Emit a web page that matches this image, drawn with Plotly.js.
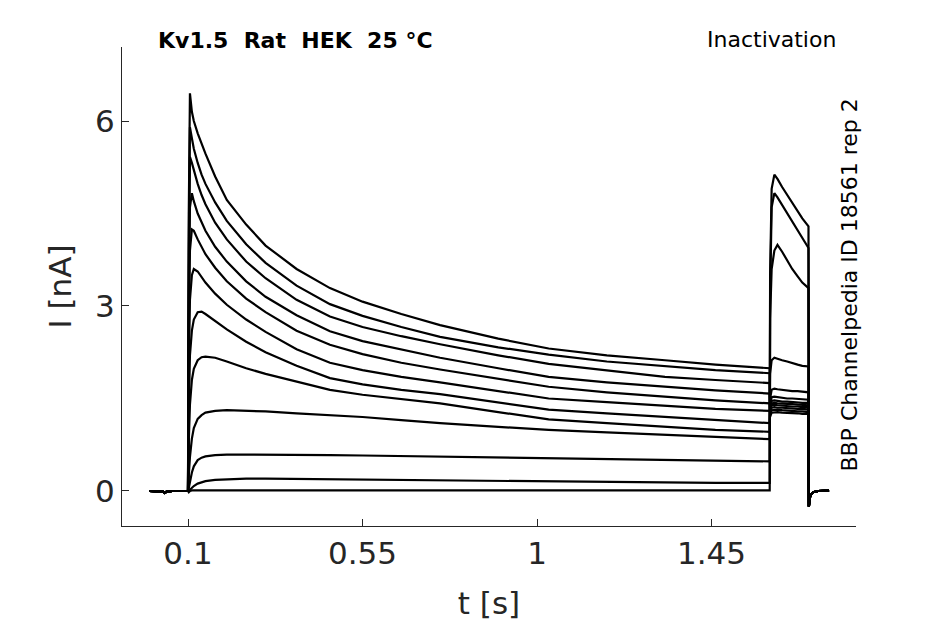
<!DOCTYPE html>
<html>
<head>
<meta charset="utf-8">
<script src="https://cdn.plot.ly/plotly-3.0.1.min.js"></script>
<style>html,body{margin:0;padding:0;background:#fff;}#chart{width:945px;height:624px;}</style>
</head>
<body>
<div id="chart"></div>
<script>
// ---- data (t in s, I in nA) ----
var baseT = [0, 0.02, 0.035, 0.04, 0.045, 0.06, 0.08, 0.1];
var baseI = [0, 0, -0.01, -0.03, -0.01, 0, 0, 0];

var preT = [0.102, 0.105, 0.11, 0.115, 0.125, 0.135, 0.145, 0.17, 0.2, 0.25, 0.3, 0.38, 0.466, 0.55, 0.65, 0.75, 0.9, 1.03, 1.18, 1.33, 1.46, 1.6];
var pre1  = [4.5, 6.45, 6.15, 6.0, 5.8, 5.62, 5.47, 5.1, 4.72, 4.32, 3.98, 3.6, 3.29, 3.07, 2.87, 2.69, 2.47, 2.31, 2.2, 2.12, 2.05, 1.99];
var pre2  = [4.0, 5.9, 5.72, 5.55, 5.32, 5.13, 4.98, 4.68, 4.38, 4.0, 3.7, 3.33, 3.03, 2.84, 2.66, 2.5, 2.33, 2.21, 2.1, 2.02, 1.96, 1.91];
var pre3  = [3.5, 5.42, 5.32, 5.2, 4.98, 4.8, 4.65, 4.35, 4.08, 3.72, 3.45, 3.1, 2.83, 2.66, 2.51, 2.38, 2.2, 2.06, 1.95, 1.85, 1.8, 1.75];
var pre4  = [3.0, 4.6, 4.83, 4.7, 4.5, 4.35, 4.22, 3.96, 3.72, 3.4, 3.15, 2.85, 2.59, 2.43, 2.29, 2.16, 1.99, 1.85, 1.76, 1.69, 1.63, 1.58];
var pre5  = [2.6, 3.9, 4.24, 4.22, 4.08, 3.95, 3.84, 3.62, 3.4, 3.12, 2.9, 2.6, 2.37, 2.22, 2.08, 1.97, 1.82, 1.69, 1.6, 1.53, 1.47, 1.42];
var pre6  = [2.0, 3.1, 3.5, 3.6, 3.56, 3.47, 3.38, 3.2, 3.02, 2.78, 2.58, 2.3, 2.08, 1.96, 1.85, 1.76, 1.62, 1.5, 1.44, 1.38, 1.33, 1.3];
var pre7  = [1.3, 2.2, 2.6, 2.78, 2.9, 2.91, 2.87, 2.76, 2.62, 2.42, 2.25, 2.03, 1.83, 1.73, 1.64, 1.57, 1.44, 1.32, 1.26, 1.2, 1.15, 1.1];
var pre8  = [0.8, 1.4, 1.8, 1.98, 2.12, 2.17, 2.18, 2.16, 2.1, 1.99, 1.9, 1.77, 1.64, 1.56, 1.49, 1.42, 1.28, 1.16, 1.1, 1.04, 0.99, 0.96];
var pre9  = [0.25, 0.55, 0.85, 1.02, 1.17, 1.23, 1.27, 1.3, 1.31, 1.3, 1.29, 1.26, 1.23, 1.2, 1.15, 1.1, 1.04, 0.99, 0.95, 0.91, 0.87, 0.84];
var pre10 = [0.05, 0.15, 0.3, 0.4, 0.5, 0.54, 0.56, 0.58, 0.59, 0.59, 0.59, 0.585, 0.58, 0.575, 0.565, 0.56, 0.545, 0.53, 0.515, 0.5, 0.49, 0.48];
var pre11 = [0.0, 0.02, 0.05, 0.08, 0.12, 0.14, 0.16, 0.18, 0.19, 0.2, 0.2, 0.195, 0.19, 0.185, 0.18, 0.17, 0.155, 0.145, 0.14, 0.135, 0.13, 0.13];
var pre12 = [-0.02, 0.0, 0.01, 0.01, 0.01, 0.01, 0.01, 0.01, 0.01, 0.01, 0.01, 0.01, 0.01, 0.01, 0.01, 0.01, 0.01, 0.01, 0.01, 0.01, 0.01, 0.01];

var testT = [1.601, 1.605, 1.612, 1.62, 1.632, 1.645, 1.658, 1.672, 1.684, 1.7];
var test1  = [1.2, 1.27, 1.28, 1.28, 1.27, 1.27, 1.26, 1.26, 1.25, 1.25];
var test2  = [1.24, 1.31, 1.32, 1.32, 1.31, 1.3, 1.3, 1.29, 1.29, 1.28];
var test3  = [1.27, 1.35, 1.36, 1.35, 1.35, 1.34, 1.34, 1.33, 1.33, 1.32];
var test4  = [1.3, 1.39, 1.4, 1.39, 1.38, 1.38, 1.37, 1.37, 1.36, 1.36];
var test5  = [1.32, 1.42, 1.43, 1.42, 1.42, 1.41, 1.41, 1.4, 1.4, 1.39];
var test6  = [1.35, 1.46, 1.47, 1.46, 1.45, 1.45, 1.44, 1.44, 1.43, 1.43];
var test7  = [1.4, 1.52, 1.53, 1.52, 1.51, 1.5, 1.5, 1.49, 1.48, 1.48];
var test8  = [1.5, 1.64, 1.66, 1.65, 1.64, 1.63, 1.62, 1.62, 1.61, 1.6];
var test9  = [1.9, 2.12, 2.16, 2.14, 2.12, 2.1, 2.07, 2.05, 2.03, 2.02];
var test10 = [2.8, 3.6, 3.9, 3.99, 3.88, 3.74, 3.6, 3.48, 3.38, 3.29];
var test11 = [3.2, 4.6, 4.83, 4.76, 4.64, 4.5, 4.37, 4.23, 4.1, 3.94];
var test12 = [3.5, 4.9, 5.13, 5.06, 4.93, 4.8, 4.67, 4.53, 4.42, 4.29];

var tailT = [1.701, 1.703, 1.706, 1.712, 1.725, 1.74, 1.753];
var tailI = [-0.25, -0.12, -0.06, -0.02, 0.0, 0.0, 0.01];

var preSets  = [pre1, pre2, pre3, pre4, pre5, pre6, pre7, pre8, pre9, pre10, pre11, pre12];
var testSets = [test1, test2, test3, test4, test5, test6, test7, test8, test9, test10, test11, test12];

var xTicks = [0.1, 0.55, 1, 1.45];
var xTickText = ['0.1', '0.55', '1', '1.45'];
var yTicks = [0, 3, 6];
var yTickText = ['0', '3', '6'];

// ---- build traces ----
var traces = [];
for (var k = 0; k < preSets.length; k++) {
  traces.push({
    type: 'scatter', mode: 'lines',
    x: baseT.concat(preT, testT, tailT),
    y: baseI.concat(preSets[k], testSets[k], tailI),
    line: {color: '#000000', width: 2.2},
    hoverinfo: 'skip', showlegend: false
  });
}

var axisColor = '#262626';
var fam = 'DejaVu Sans, Liberation Sans, sans-serif';

var layout = {
  width: 945, height: 624,
  paper_bgcolor: '#ffffff', plot_bgcolor: '#ffffff',
  margin: {l: 122, r: 89, t: 47, b: 98, pad: 0},
  font: {family: fam, color: axisColor},
  showlegend: false,
  xaxis: {
    range: [-0.0702, 1.8225],
    tickvals: xTicks, ticktext: xTickText,
    ticks: 'inside', ticklen: 7, tickwidth: 1, tickcolor: axisColor,
    showline: true, linecolor: axisColor, linewidth: 1,
    showgrid: false, zeroline: false,
    tickfont: {size: 31, color: axisColor, family: fam},
    title: {text: 't [s]', font: {size: 31, color: axisColor, family: fam}, standoff: 22}
  },
  yaxis: {
    range: [-0.568, 7.2],
    tickvals: yTicks, ticktext: yTickText,
    ticks: 'inside', ticklen: 7, tickwidth: 1, tickcolor: axisColor,
    showline: true, linecolor: axisColor, linewidth: 1,
    showgrid: false, zeroline: false,
    tickfont: {size: 31, color: axisColor, family: fam},
    title: {text: 'I [nA]', font: {size: 31, color: axisColor, family: fam}, standoff: 14}
  },
  annotations: [
    {xref: 'paper', yref: 'paper', x: 0.047, y: 1.0146, xanchor: 'left', yanchor: 'middle',
     text: '<b>Kv1.5  Rat  HEK  25 °C</b>', showarrow: false,
     font: {size: 22, color: '#000000', family: fam}},
    {xref: 'paper', yref: 'paper', x: 0.9755, y: 1.0167, xanchor: 'right', yanchor: 'middle',
     text: 'Inactivation', showarrow: false,
     font: {size: 22, color: '#000000', family: fam}},
    {xref: 'paper', yref: 'paper', x: 0.9918, y: 0.504, xanchor: 'center', yanchor: 'middle',
     text: 'BBP Channelpedia ID 18561 rep 2', textangle: -90, showarrow: false,
     font: {size: 22, color: '#000000', family: fam}}
  ]
};

Plotly.newPlot('chart', traces, layout, {displayModeBar: false, staticPlot: true});
</script>
</body>
</html>
